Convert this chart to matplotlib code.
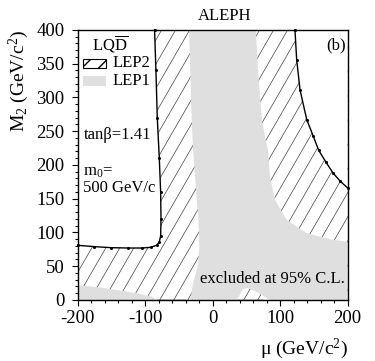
import numpy as np
import matplotlib
matplotlib.use('Agg')
import matplotlib.pyplot as plt
from matplotlib.collections import LineCollection
from matplotlib.patches import Rectangle

plt.rcParams['font.family'] = ['Liberation Serif', 'DejaVu Serif']
plt.rcParams['mathtext.fontset'] = 'custom'
plt.rcParams['mathtext.rm'] = 'Liberation Serif'
plt.rcParams['mathtext.it'] = 'Liberation Serif:italic'
plt.rcParams['axes.unicode_minus'] = False

GREY = '#dfdfdf'

# LEP2 exclusion contours (black lines with dots); outside them is hatched
lep2_left_mu = [-86, -84, -82, -79, -77, -76.5, -77, -79, -83, -92, -105, -125, -150, -175, -200]
lep2_left_m2 = [400, 340, 270, 210, 160, 120, 95, 86, 81, 78, 77, 77, 77.5, 79, 81]
lep2_right_mu = [122, 124.5, 129.5, 139.5, 149, 157, 168, 178.5, 189, 200]
lep2_right_m2 = [400, 356, 311, 267, 243, 222, 204, 188, 176, 166]
# short pieces of the LEP2 contour running along M2 = 0
floor_a_mu = [-82, -41]
floor_b_mu = [38, 73]

# LEP1 excluded region (grey), central band
lep1_left_mu = [-35, -31, -29, -25, -22, -20, -20, -22, -29, -33]
lep1_left_m2 = [400, 267, 222, 170, 130, 100, 74, 50, 25, 0]
notch_mu = [36, 45, 52, 65, 80, 84]
notch_m2 = [0, 16, 18, 12, 3, 0]
lep1_right_mu = [200, 174, 139.5, 110, 92.6, 85, 82, 78, 73, 68, 64]
lep1_right_m2 = [86, 90, 99, 118.5, 148, 182, 222, 240, 267, 330, 400]
# LEP1 excluded region, bottom-left corner
lep1_corner_mu = [-200, -162, -112, -90, -82]
lep1_corner_m2 = [22, 18, 10, 5, 0]

fig = plt.figure(figsize=(3.75, 3.61), dpi=100)
ax = fig.add_axes([0.207, 0.169, 0.72, 0.748])

# hatch over the full plane (steep lines, like the original)
angle = np.deg2rad(60)
step = 14 / 270
segs = []
for x0 in np.arange(-1 / np.tan(angle) - step, 1 + step, step):
    segs.append([(x0, 0), (x0 + 1 / np.tan(angle), 1)])
ax.add_collection(LineCollection(segs, colors='#404040', linewidths=0.5,
                                 transform=ax.transAxes, zorder=1), autolim=False)

# allowed (white) regions inside LEP2 contours
ax.fill(lep2_left_mu + [-200], lep2_left_m2 + [400], color='white', zorder=2, lw=0)
ax.fill(lep2_right_mu + [200], lep2_right_m2 + [400], color='white', zorder=2, lw=0)

# LEP1 grey
band_mu = lep1_left_mu + notch_mu + [200] + lep1_right_mu
band_m2 = lep1_left_m2 + notch_m2 + [0] + lep1_right_m2
ax.fill(band_mu, band_m2, color=GREY, zorder=3, lw=0)
ax.fill(lep1_corner_mu + [-200], lep1_corner_m2 + [0], color=GREY, zorder=3, lw=0)

# LEP2 contour lines
for mu, m2 in [(lep2_left_mu, lep2_left_m2), (lep2_right_mu, lep2_right_m2)]:
    ax.plot(mu, m2, color='black', lw=1.0, marker='o', ms=1.2, zorder=4, clip_on=False)
ax.plot(floor_a_mu, [0.5, 0.5], color='black', lw=1.0, zorder=4)
ax.plot(floor_b_mu, [0.5, 0.5], color='black', lw=1.0, zorder=4)

ax.set_xlim(-200, 200)
ax.set_ylim(0, 400)
ax.set_xticks([-200, -100, 0, 100, 200])
ax.set_yticks(np.arange(0, 401, 50))
ax.set_xticks(np.arange(-200, 201, 20), minor=True)
ax.set_yticks(np.arange(0, 401, 10), minor=True)
ax.tick_params(which='major', direction='out', length=4.5, width=0.8, labelsize=13.5)
ax.tick_params(which='minor', direction='out', length=2.2, width=0.8)
ax.tick_params(axis='y', which='major', pad=5)
ax.tick_params(axis='x', which='major', pad=3)
for s in ax.spines.values():
    s.set_linewidth(1.0)
    s.set_zorder(6)

ax.set_xlabel(r'μ (GeV/c$^2$)', fontsize=14, loc='right', labelpad=7)
ax.set_ylabel(r'M$_2$ (GeV/c$^2$)', fontsize=14, loc='top', labelpad=4)

ax.text(0.546, 1.022, 'ALEPH', transform=ax.transAxes, ha='center', va='bottom', fontsize=12)
ax.text(0.995, 0.944, '(b)', transform=ax.transAxes, ha='right', va='center', fontsize=12, zorder=5)

# legend
ax.text(0.054, 0.948, r'LQ$\overline{\mathrm{D}}$', transform=ax.transAxes, va='center', fontsize=12, zorder=5)
ax.add_patch(Rectangle((0.020, 0.859), 0.085, 0.033, transform=ax.transAxes, facecolor='white',
                       edgecolor='black', hatch='//', lw=0.8, zorder=5))
ax.text(0.128, 0.876, 'LEP2', transform=ax.transAxes, va='center', fontsize=12, zorder=5)
ax.add_patch(Rectangle((0.020, 0.793), 0.085, 0.037, transform=ax.transAxes, facecolor=GREY,
                       edgecolor='none', zorder=5))
ax.text(0.128, 0.811, 'LEP1', transform=ax.transAxes, va='center', fontsize=12, zorder=5)

ax.text(0.0215, 0.611, 'tanβ=1.41', transform=ax.transAxes, va='center', fontsize=12, zorder=5)
ax.text(0.0215, 0.475, r'm$_0$=', transform=ax.transAxes, va='center', fontsize=12, zorder=5)
ax.text(0.0215, 0.415, '500 GeV/c', transform=ax.transAxes, va='center', fontsize=12, zorder=5)
ax.text(0.454, 0.078, 'excluded at 95% C.L.', transform=ax.transAxes, va='center', fontsize=12, zorder=5)

fig.savefig('out.png', dpi=100)
